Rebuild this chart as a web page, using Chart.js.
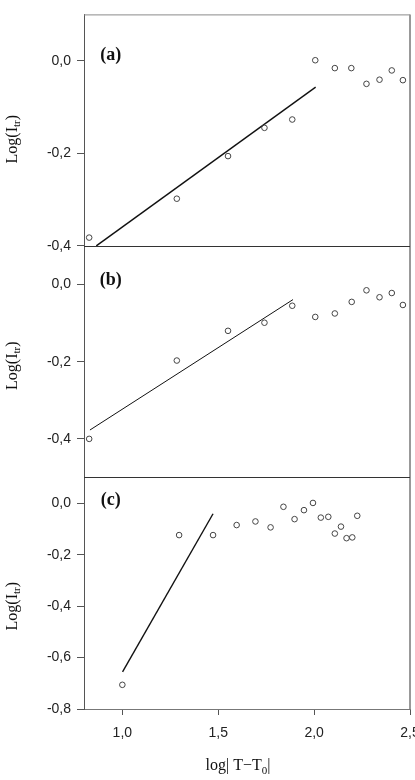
<!DOCTYPE html>
<html>
<head>
<meta charset="utf-8">
<script src="https://cdn.jsdelivr.net/npm/chart.js@4"></script>
<style>
  body { margin: 0; background: #fff; }
  #wrap { position: relative; width: 415px; height: 780px; }
</style>
</head>
<body>
<div id="wrap"><canvas id="chart"></canvas></div>
<script>
// tick labels
var xTicks = [1.0, 1.5, 2.0, 2.5]
var yTicksA = [-0.4, -0.2, 0.0]
var yTicksB = [-0.4, -0.2, 0.0]
var yTicksC = [-0.8, -0.6, -0.4, -0.2, 0.0]
var panelLabels = ['(a)', '(b)', '(c)']

// panel (a) measured points + fitted line
var xA = [0.827, 1.284, 1.551, 1.741, 1.886, 2.006, 2.108, 2.194, 2.273, 2.341, 2.405, 2.463]
var yA = [-0.382, -0.298, -0.206, -0.145, -0.127, 0.001, -0.016, -0.016, -0.050, -0.041, -0.021, -0.042]
var fitXA = [0.864, 2.008]
var fitYA = [-0.400, -0.057]

// panel (b)
var xB = [0.827, 1.284, 1.551, 1.741, 1.886, 2.006, 2.108, 2.196, 2.273, 2.341, 2.405, 2.463]
var yB = [-0.400, -0.197, -0.120, -0.099, -0.055, -0.084, -0.075, -0.045, -0.015, -0.033, -0.022, -0.053]
var fitXB = [0.831, 1.890]
var fitYB = [-0.377, -0.039]

// panel (c)
var xC = [1.000, 1.296, 1.473, 1.596, 1.694, 1.773, 1.840, 1.898, 1.947, 1.994, 2.035, 2.074, 2.108, 2.140, 2.169, 2.199, 2.225]
var yC = [-0.706, -0.124, -0.124, -0.085, -0.071, -0.094, -0.014, -0.062, -0.027, 0.001, -0.056, -0.053, -0.118, -0.091, -0.136, -0.133, -0.049]
var fitXC = [1.001, 1.473]
var fitYC = [-0.656, -0.041]

function pairs(xs, ys) {
  return xs.map(function (x, i) { return { x: x, y: ys[i] } })
}

function fmt(v) {
  return v.toFixed(1).replace('.', ',')
}

function pointSet(xs, ys, axis) {
  return {
    type: 'scatter',
    data: pairs(xs, ys),
    yAxisID: axis,
    pointStyle: 'circle',
    pointRadius: 2.8,
    pointBorderWidth: 1,
    pointBorderColor: '#444',
    pointBackgroundColor: 'rgba(0,0,0,0)',
    showLine: false
  }
}

function fitSet(xs, ys, axis, w) {
  return {
    type: 'line',
    data: pairs(xs, ys),
    yAxisID: axis,
    borderColor: '#111',
    borderWidth: w,
    pointRadius: 0,
    fill: false,
    tension: 0
  }
}

function yScale(min, max, ticks) {
  return {
    type: 'linear',
    position: 'left',
    stack: 'panels',
    stackWeight: 1,
    min: min,
    max: max,
    afterBuildTicks: function (s) {
      s.ticks = ticks.map(function (v) { return { value: v } })
    },
    afterFit: function (s) { s.width = 84 },
    ticks: {
      color: '#222',
      padding: 6,
      font: { family: '"Liberation Sans", Arial, sans-serif', size: 14 },
      callback: function (v) { return fmt(v) }
    },
    grid: { drawOnChartArea: false, drawTicks: true, tickLength: 7, tickColor: '#555' },
    border: { color: '#555', width: 1 }
  }
}

// frame lines, panel labels, axis titles
var decor = {
  id: 'decor',
  afterDraw: function (chart) {
    var ctx = chart.ctx
    var ca = chart.chartArea
    var sc = chart.scales
    ctx.save()

    ctx.strokeStyle = '#8a8a8a'
    ctx.lineWidth = 1
    ctx.beginPath()
    ctx.moveTo(ca.left, ca.top + 0.5)
    ctx.lineTo(ca.right, ca.top + 0.5)
    ctx.stroke()

    ctx.strokeStyle = '#999'
    ctx.lineWidth = 2
    ctx.beginPath()
    ctx.moveTo(ca.right, ca.top)
    ctx.lineTo(ca.right, ca.bottom)
    ctx.stroke()

    ctx.strokeStyle = '#333'
    ctx.lineWidth = 1
    ;['ya', 'yb'].forEach(function (id) {
      var yb = Math.round(sc[id].bottom) + 0.5
      ctx.beginPath()
      ctx.moveTo(ca.left, yb)
      ctx.lineTo(ca.right, yb)
      ctx.stroke()
    })

    // panel letters
    ctx.fillStyle = '#111'
    ctx.font = 'bold 18px "Liberation Serif", "Times New Roman", serif'
    ctx.textAlign = 'center'
    ctx.textBaseline = 'middle'
    ;['ya', 'yb', 'yc'].forEach(function (id, i) {
      ctx.fillText(panelLabels[i], sc.x.getPixelForValue(0.94), sc[id].getPixelForValue(0.012))
    })

    // y titles
    var offs = [9, 4, 13]
    ;['ya', 'yb', 'yc'].forEach(function (id, i) {
      var cy = (sc[id].top + sc[id].bottom) / 2 + offs[i]
      ctx.save()
      ctx.translate(12, cy)
      ctx.rotate(-Math.PI / 2)
      ctx.textAlign = 'left'
      ctx.textBaseline = 'alphabetic'
      var big = '16px "Liberation Serif", "Times New Roman", serif'
      var small = '11px "Liberation Serif", "Times New Roman", serif'
      ctx.font = big
      var w1 = ctx.measureText('Log(I').width
      var w3 = ctx.measureText(')').width
      ctx.font = small
      var w2 = ctx.measureText('tr').width
      var x0 = -(w1 + w2 + w3) / 2
      ctx.font = big
      ctx.fillText('Log(I', x0, 5)
      ctx.font = small
      ctx.fillText('tr', x0 + w1, 8)
      ctx.font = big
      ctx.fillText(')', x0 + w1 + w2, 5)
      ctx.restore()
    })

    // x title
    var bigX = '16px "Liberation Serif", "Times New Roman", serif'
    var smallX = '11px "Liberation Serif", "Times New Roman", serif'
    var parts = [['log', bigX, 0], ['|', bigX, 0], [' T\u2212T', bigX, 0], ['0', smallX, 4], ['|', bigX, 0]]
    var total = 0
    parts.forEach(function (p) { ctx.font = p[1]; p.push(ctx.measureText(p[0]).width); total += p[3] })
    var xx = 238 - total / 2
    ctx.textAlign = 'left'
    ctx.textBaseline = 'alphabetic'
    parts.forEach(function (p) {
      ctx.font = p[1]
      ctx.fillText(p[0], xx, 770 + p[2])
      xx += p[3]
    })

    ctx.restore()
  }
}

var ctx = document.getElementById('chart').getContext('2d')
var chart = new Chart(ctx, {
  type: 'scatter',
  data: {
    datasets: [
      pointSet(xA, yA, 'ya'), fitSet(fitXA, fitYA, 'ya', 1.4),
      pointSet(xB, yB, 'yb'), fitSet(fitXB, fitYB, 'yb', 1),
      pointSet(xC, yC, 'yc'), fitSet(fitXC, fitYC, 'yc', 1.4)
    ]
  },
  options: {
    responsive: true,
    maintainAspectRatio: false,
    animation: false,
    layout: { autoPadding: false, padding: { top: 6, right: 5, left: 0, bottom: 0 } },
    plugins: { legend: { display: false }, tooltip: { enabled: false } },
    scales: {
      x: {
        type: 'linear',
        min: 0.8,
        max: 2.5,
        afterBuildTicks: function (s) {
          s.ticks = xTicks.map(function (v) { return { value: v } })
        },
        afterFit: function (s) {
          s.height = 71
          s.paddingLeft = 0
          s.paddingRight = 0
        },
        ticks: {
          color: '#222',
          padding: 10,
          maxRotation: 0,
          font: { family: '"Liberation Sans", Arial, sans-serif', size: 14 },
          callback: function (v) { return fmt(v) }
        },
        grid: { drawOnChartArea: false, drawTicks: true, tickLength: 6, tickColor: '#555' },
        border: { color: '#777', width: 1 }
      },
      // stacked from the bottom up: (c) lowest, (a) on top
      yc: yScale(-0.8, 0.1, yTicksC),
      yb: yScale(-0.5, 0.1, yTicksB),
      ya: yScale(-0.4, 0.1, yTicksA)
    }
  },
  plugins: [decor]
})
</script>
</body>
</html>
